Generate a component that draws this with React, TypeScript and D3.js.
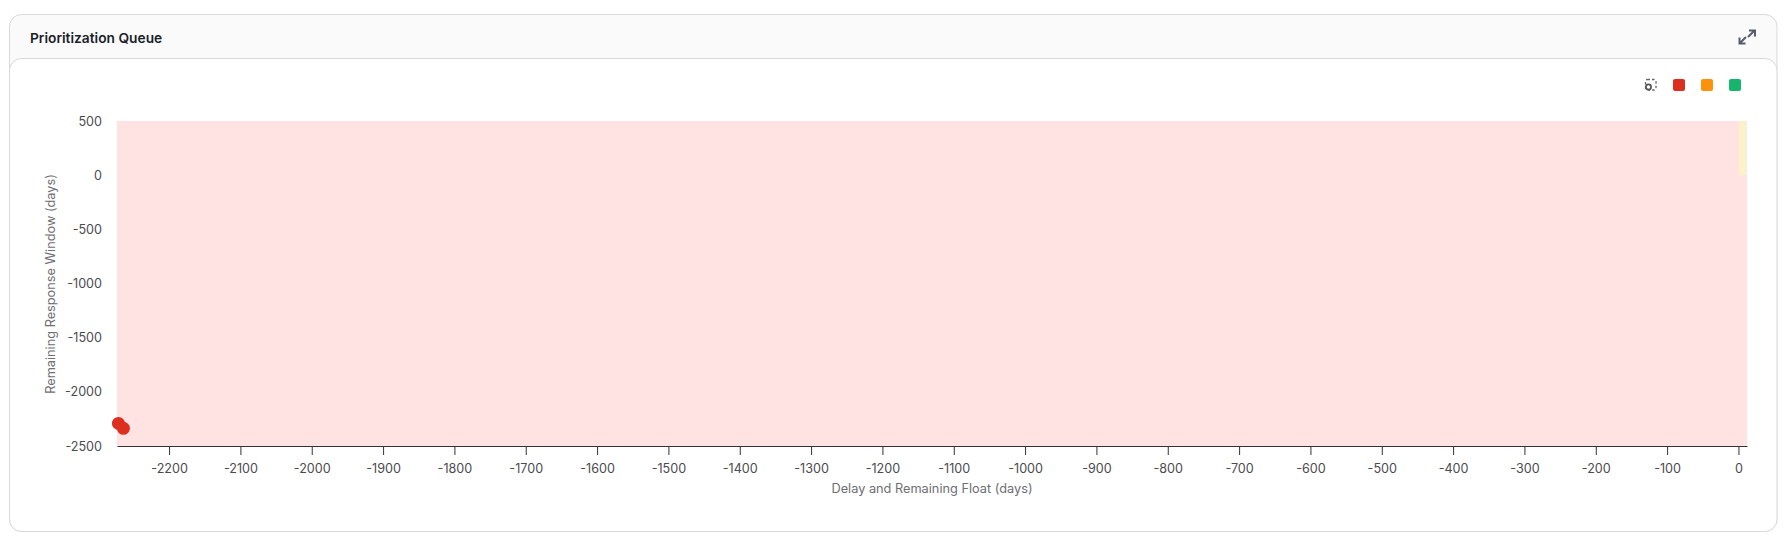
import React, { useEffect, useRef } from 'react';
import * as d3 from 'd3';

const xTicks = [
  -2200, -2100, -2000, -1900, -1800, -1700, -1600, -1500, -1400, -1300, -1200,
  -1100, -1000, -900, -800, -700, -600, -500, -400, -300, -200, -100, 0,
];
const yTicks = [500, 0, -500, -1000, -1500, -2000, -2500];

// [x0, x1, y0, y1] in days
const zoneNames = ['late', 'watch', 'ok'];
const zoneX = [[-2273, 12], [0, 10.3], [10.3, 12]];
const zoneY = [[-2500, 500], [0, 500], [0, 500]];
const zoneColors = ['#ffe2e2', '#fef0c8', '#e6f8e4'];

const pointX = [-2271, -2264];
const pointY = [-2292, -2337];

const legendColors = ['#dc2f20', '#fb9209', '#16b46c'];

const App: React.FC = () => {
  const svgRef = useRef<SVGSVGElement>(null);

  useEffect(() => {
    if (!svgRef.current) return;
    const svg = d3.select(svgRef.current);
    svg.selectAll('*').remove();

    const width = 1789;
    const height = 541;
    const margin = { top: 121, right: 42, bottom: 95, left: 117 };
    const font = 'Inter, sans-serif';

    // Outer card with grey header
    svg.append('rect')
      .attr('x', 9.5).attr('y', 14.5).attr('width', 1767.5).attr('height', 517)
      .attr('rx', 12).attr('fill', '#fafafa').attr('stroke', '#d9d9d9');
    svg.append('rect')
      .attr('x', 9.5).attr('y', 58.5).attr('width', 1767.5).attr('height', 473)
      .attr('rx', 12).attr('fill', '#fff').attr('stroke', '#d9d9d9');

    svg.append('text')
      .attr('x', 30).attr('y', 43)
      .attr('font-family', font).attr('font-size', 13.75).attr('font-weight', 600)
      .attr('fill', '#1a1f2b')
      .text('Prioritization Queue');

    // Expand icon
    svg.append('path')
      .attr('d', 'M1748 37 L1754 31 M1749 30.5 H1755 V36.5 M1746 37 L1740 43 M1739.5 37.5 V43.5 H1745.5')
      .attr('fill', 'none').attr('stroke', '#565c68').attr('stroke-width', 2);

    const x = d3.scaleLinear()
      .domain([-2273, 12])
      .range([margin.left, width - margin.right]);
    const y = d3.scaleLinear()
      .domain([-2500, 500])
      .range([height - margin.bottom, margin.top]);

    // Background zones
    svg.append('g')
      .selectAll('rect')
      .data(zoneNames)
      .join('rect')
      .attr('x', (_, i) => x(zoneX[i][0]))
      .attr('width', (_, i) => x(zoneX[i][1]) - x(zoneX[i][0]))
      .attr('y', (_, i) => y(zoneY[i][1]))
      .attr('height', (_, i) => y(zoneY[i][0]) - y(zoneY[i][1]))
      .attr('fill', (_, i) => zoneColors[i]);

    // X axis
    const xAxis = svg.append('g')
      .attr('transform', `translate(0,${height - margin.bottom})`)
      .call(d3.axisBottom(x).tickValues(xTicks).tickFormat(d => String(d)).tickSize(9).tickSizeOuter(0).tickPadding(9));
    xAxis.select('.domain').attr('stroke', '#333').attr('stroke-width', 1);
    xAxis.selectAll('line').attr('stroke', '#333');
    xAxis.selectAll('text')
      .attr('font-family', font).attr('font-size', 12.6).attr('fill', '#4a4a4f');

    // Y axis, labels only
    const yAxis = svg.append('g')
      .attr('transform', `translate(${margin.left - 15},0)`)
      .call(d3.axisLeft(y).tickValues(yTicks).tickFormat(d => String(d)).tickSize(0).tickPadding(0));
    yAxis.select('.domain').remove();
    yAxis.selectAll('text')
      .attr('font-family', font).attr('font-size', 12.6).attr('fill', '#4a4a4f');

    svg.append('text')
      .attr('x', 932).attr('y', 493)
      .attr('text-anchor', 'middle')
      .attr('font-family', font).attr('font-size', 12.75).attr('fill', '#6e6e73')
      .text('Delay and Remaining Float (days)');
    svg.append('text')
      .attr('transform', 'translate(55,284) rotate(-90)')
      .attr('text-anchor', 'middle')
      .attr('font-family', font).attr('font-size', 12.75).attr('fill', '#6e6e73')
      .text('Remaining Response Window (days)');

    // Points
    svg.append('g')
      .selectAll('circle')
      .data(pointX)
      .join('circle')
      .attr('cx', d => x(d))
      .attr('cy', (_, i) => y(pointY[i]))
      .attr('r', 6.5)
      .attr('fill', legendColors[0]);

    // Legend toolbar
    const icon = svg.append('g').attr('transform', 'translate(1645,79)');
    icon.append('rect')
      .attr('x', 0.5).attr('y', 0.5).attr('width', 10.5).attr('height', 10.5).attr('rx', 2)
      .attr('fill', 'none').attr('stroke', '#666').attr('stroke-width', 1.3).attr('stroke-dasharray', '2.5 2');
    icon.append('circle')
      .attr('cx', 3.5).attr('cy', 8).attr('r', 2.6)
      .attr('fill', '#fff').attr('stroke', '#555').attr('stroke-width', 1.7);

    svg.append('g')
      .selectAll('rect')
      .data(legendColors)
      .join('rect')
      .attr('x', (_, i) => 1673 + i * 28)
      .attr('y', 79)
      .attr('width', 12)
      .attr('height', 12)
      .attr('rx', 2)
      .attr('fill', d => d);
  }, []);

  return (
    <svg
      ref={svgRef}
      width={1789}
      height={541}
      style={{ position: 'absolute', left: 0, top: 0, display: 'block' }}
    />
  );
};

export default App;
